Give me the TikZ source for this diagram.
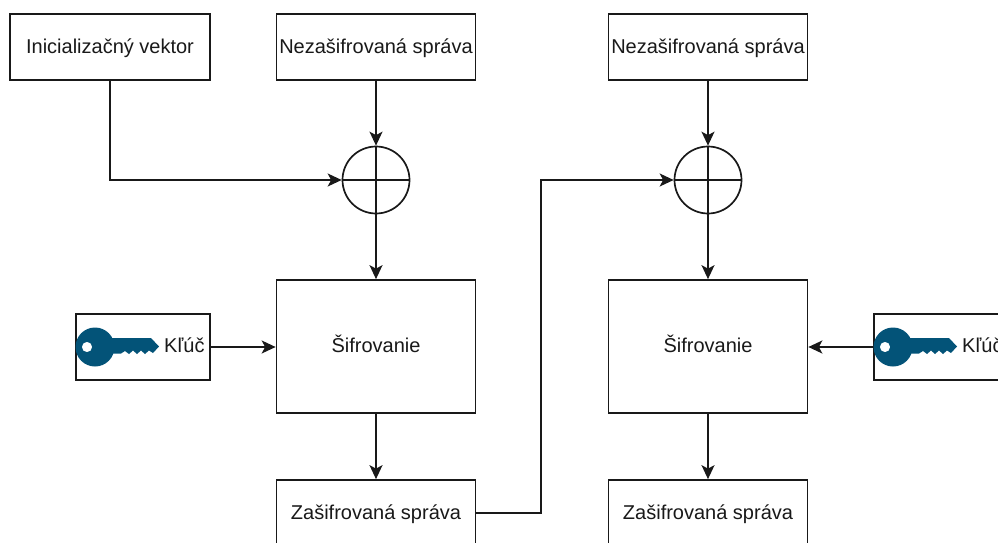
\documentclass[tikz,border=0pt]{standalone}
\usepackage{fontspec}
\setmainfont{Liberation Sans}
\usetikzlibrary{arrows.meta}
\tikzset{
  x=1pt,y=-1pt,
  every node/.style={font=\fontsize{20}{23}\selectfont,text=black!90},
  txt/.style={text height=16pt,text depth=4pt},
  boxw/.style={txt,draw=black!90,line width=1.7pt,fill=white,minimum width=199pt,minimum height=66pt,inner sep=0pt,anchor=center},
  bigbox/.style={boxw,minimum height=133pt},
  keybox/.style={draw=black!90,line width=1.7pt,fill=white,minimum width=134pt,minimum height=66pt,inner sep=0pt},
  xorc/.style={draw=black!90,line width=1.7pt,circle,minimum size=67pt,inner sep=0pt},
  conn/.style={draw=black!90,line width=1.7pt,-{Stealth[length=14pt,width=13pt,inset=3.5pt]}},
  plainline/.style={draw=black!90,line width=1.7pt},
  keyicon/.pic={
    \fill[keycol,even odd rule] (0,0) circle[radius=19.5]
      (-8,0) circle[radius=5.2];
    \fill[keycol] (14,-9) -- (56,-9) -- (64,-0.5) -- (58,6) -- (54,3.5) -- (50,7) -- (46,3.5) -- (42,7) -- (38,3.5) -- (34,7) -- (30,4) -- (26,6.5) -- (14,6.5) -- cycle;
  }
}
\definecolor{keycol}{HTML}{035378}
\begin{document}
\begin{tikzpicture}
\useasboundingbox (0,0) rectangle (998,543);
\clip (0,0) rectangle (998,543);
\node[boxw,minimum width=200pt] (iv) at (110,47) {Inicializačný vektor};
\node[boxw] (m1) at (376,47) {Nezašifrovaná správa};
\node[boxw] (m2) at (708,47) {Nezašifrovaná správa};
\node[xorc] (x1) at (376,180) {};
\node[xorc] (x2) at (708,180) {};
\draw[plainline] (x1.north) -- (x1.south) (x1.west) -- (x1.east);
\draw[plainline] (x2.north) -- (x2.south) (x2.west) -- (x2.east);
\node[bigbox] (e1) at (376,346.5) {Šifrovanie};
\node[bigbox] (e2) at (708,346.5) {Šifrovanie};
\node[keybox] (k1) at (143,347) {};
\node[keybox] (k2) at (941,347) {};
\pic at (95,347) {keyicon};
\pic at (893,347) {keyicon};
\node[anchor=west,inner sep=0pt,txt] (kt1) at (164,346) {Kľúč};
\node[anchor=west,inner sep=0pt,txt] (kt2) at (962,346) {Kľúč};
\node[boxw] (c1) at (376,513) {Zašifrovaná správa};
\node[boxw] (c2) at (708,513) {Zašifrovaná správa};
\coordinate (bend) at (541,513);
\draw[conn] (iv.south) |- (x1.west);
\draw[conn] (m1.south) -- (x1.north);
\draw[conn] (m2.south) -- (x2.north);
\draw[conn] (x1.south) -- (e1.north);
\draw[conn] (x2.south) -- (e2.north);
\draw[conn] (k1.east) -- (k1.east -| e1.west);
\draw[conn] (k2.west) -- (k2.west -| e2.east);
\draw[conn] (e1.south) -- (c1.north);
\draw[conn] (e2.south) -- (c2.north);
\draw[conn] (c1.east) -- (bend) |- (x2.west);
\end{tikzpicture}
\end{document}
